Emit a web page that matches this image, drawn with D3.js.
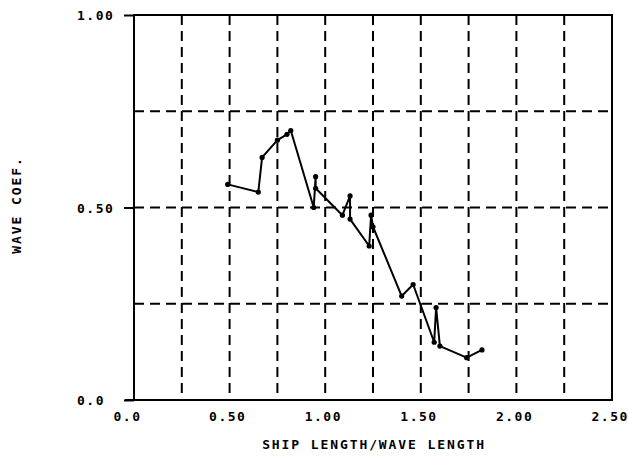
<!DOCTYPE html>
<html>
<head>
<meta charset="utf-8">
<script src="https://cdn.jsdelivr.net/npm/d3@7"></script>
<style>
  body { margin: 0; background: #fff; }
  text { font-family: "DejaVu Sans Mono", monospace; font-weight: bold; font-size: 13px; letter-spacing: 1.9px; fill: #000; }
  .tick text { letter-spacing: 1.5px; }
</style>
</head>
<body>
<svg width="628" height="457"></svg>
<script>
// ship length / wave length vs wave coef.
const xVals = [0.49, 0.65, 0.67, 0.75, 0.80, 0.82, 0.94, 0.95, 0.95, 1.09, 1.13, 1.13, 1.23, 1.24, 1.25, 1.40, 1.46, 1.57, 1.58, 1.60, 1.74, 1.82]
const yVals = [0.56, 0.54, 0.63, 0.675, 0.69, 0.70, 0.50, 0.58, 0.55, 0.48, 0.53, 0.47, 0.40, 0.48, 0.45, 0.27, 0.30, 0.15, 0.24, 0.14, 0.11, 0.13]

const xTicks = [0, 0.5, 1, 1.5, 2, 2.5]
const xTickLabels = ['0.0', '0.50', '1.00', '1.50', '2.00', '2.50']
const yTicks = [0, 0.5, 1]
const yTickLabels = ['0.0', '0.50', '1.00']
const xGrid = [0.25, 0.5, 0.75, 1, 1.25, 1.5, 1.75, 2, 2.25]
const yGrid = [0.25, 0.5, 0.75]

const xTitle = 'SHIP LENGTH/WAVE LENGTH'
const yTitle = 'WAVE COEF.'

const svg = d3.select('svg')
const mLeft = 134, mRight = 612, mTop = 15, mBottom = 400

const x = d3.scaleLinear().domain([0, 2.5]).range([mLeft, mRight])
const y = d3.scaleLinear().domain([0, 1]).range([mBottom, mTop])

const data = xVals.map((v, i) => ({x: v, y: yVals[i]}))

// dashed grid
const grid = svg.append('g')
  .attr('stroke', '#000')
  .attr('stroke-width', 2)
  .attr('stroke-dasharray', '10,6')
grid.selectAll('line.v')
  .data(xGrid).enter().append('line')
  .attr('class', 'v')
  .attr('x1', d => x(d)).attr('x2', d => x(d))
  .attr('y1', y(1)).attr('y2', y(0))
grid.selectAll('line.h')
  .data(yGrid).enter().append('line')
  .attr('class', 'h')
  .attr('x1', x(0)).attr('x2', x(2.5))
  .attr('y1', d => y(d)).attr('y2', d => y(d))

// axes
const xAxis = d3.axisBottom(x)
  .tickValues(xTicks)
  .tickFormat((d, i) => xTickLabels[i])
  .tickSize(0)
  .tickPadding(0)
const gx = svg.append('g')
  .attr('transform', `translate(0,${mBottom})`)
  .call(xAxis)
gx.select('.domain').remove()
gx.selectAll('text')
  .attr('text-anchor', 'start')
  .attr('dx', -21)
  .attr('dy', 0)
  .attr('y', 21)

const yAxis = d3.axisLeft(y)
  .tickValues(yTicks)
  .tickFormat((d, i) => yTickLabels[i])
  .tickSize(10)
  .tickPadding(0)
const gy = svg.append('g')
  .attr('transform', `translate(${mLeft},0)`)
  .call(yAxis)
gy.select('.domain').remove()
gy.selectAll('line').attr('stroke', '#000').attr('stroke-width', 2)
gy.selectAll('text')
  .attr('text-anchor', 'start')
  .attr('x', 77 - mLeft)
  .attr('dy', '0.36em')

// frame
svg.append('path')
  .attr('fill', 'none')
  .attr('stroke', '#000')
  .attr('stroke-width', 2)
  .attr('d', `M${x(0)},${y(0) + 1}V${y(1)}H${x(2.5)}V${y(0)}H${x(0) - 9}`)

// data line + markers
svg.append('path')
  .datum(data)
  .attr('fill', 'none')
  .attr('stroke', '#000')
  .attr('stroke-width', 2)
  .attr('stroke-linejoin', 'round')
  .attr('d', d3.line().x(d => x(d.x)).y(d => y(d.y)))

svg.append('g').selectAll('circle')
  .data(data).enter().append('circle')
  .attr('cx', d => x(d.x))
  .attr('cy', d => y(d.y))
  .attr('r', 2.6)
  .attr('fill', '#000')

// titles
svg.append('text')
  .attr('x', (mLeft + mRight) / 2 + 1)
  .attr('y', 449)
  .attr('text-anchor', 'middle')
  .text(xTitle)

svg.append('text')
  .attr('transform', 'translate(21,205) rotate(-90)')
  .attr('text-anchor', 'middle')
  .text(yTitle)
</script>
</body>
</html>
